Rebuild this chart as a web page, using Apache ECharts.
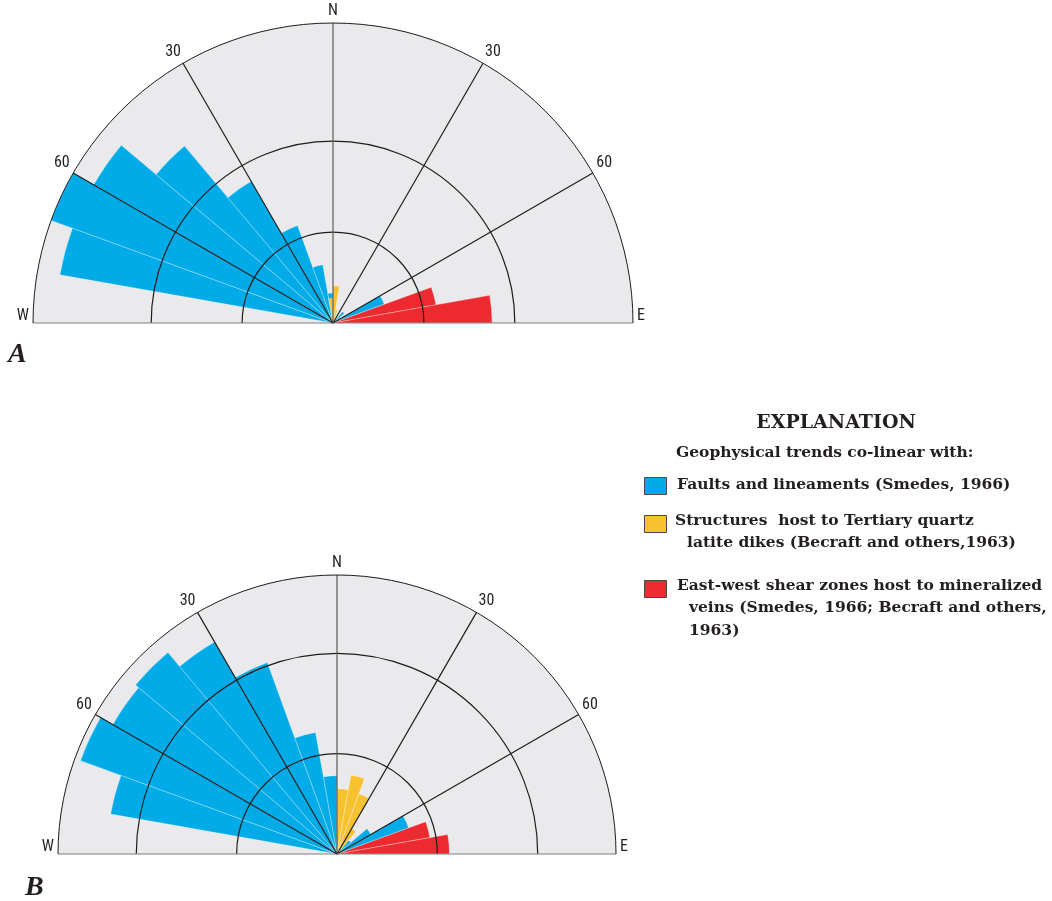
<!DOCTYPE html>
<html>
<head>
<meta charset="utf-8">
<script src="https://cdn.jsdelivr.net/npm/echarts@6/dist/echarts.min.js"></script>
<style>
  html, body { margin: 0; padding: 0; background: #ffffff; }
  #chart { width: 1052px; height: 901px; }
</style>
</head>
<body>
<div id="chart"></div>
<script>
// 10-degree strike bins, west to east through north
const bins = ['N85W', 'N75W', 'N65W', 'N55W', 'N45W', 'N35W', 'N25W', 'N15W', 'N5W',
              'N5E', 'N15E', 'N25E', 'N35E', 'N45E', 'N55E', 'N65E', 'N75E', 'N85E'];

// Diagram A (ring spacing = 10 units)
const faultsA = [0, 30.5, 33.0, 30.4, 25.4, 18.0, 11.4, 6.5, 3.3, 0, 0, 0, 0, 1.6, 0, 6.0, 0, 0];
const dikesA  = [0, 0, 0, 0, 0, 0, 0, 0, 2.7, 4.1, 1.5, 0, 0, 0, 0, 0, 0, 0];
const veinsA  = [0, 0, 0, 0, 0, 0, 0, 0, 0, 0, 0, 0, 0, 0, 0, 0, 11.5, 17.5];

// Diagram B (ring spacing = 10 units)
const faultsB = [0, 22.9, 27.2, 25.8, 26.2, 24.4, 20.3, 12.3, 7.8, 0, 0, 0, 0, 1.8, 3.9, 7.6, 0, 0];
const dikesB  = [0, 0, 0, 0, 0, 0, 0, 0, 0, 6.5, 8.0, 6.4, 2.9, 0, 0, 0, 0, 0];
const veinsB  = [0, 0, 0, 0, 0, 0, 0, 0, 0, 0, 0, 0, 0, 0, 0, 0, 9.4, 11.2];

// Compass tick labels (bearing in degrees, negative = west of north)
const compassTicks  = [-90, -60, -30, 0, 30, 60, 90];
const compassLabels = ['W', '60', '30', 'N', '30', '60', 'E'];

const seriesNames = [
  'Faults and lineaments (Smedes, 1966)',
  'Structures host to Tertiary quartz latite dikes (Becraft and others, 1963)',
  'East-west shear zones host to mineralized veins (Smedes, 1966; Becraft and others, 1963)'
];

const BLUE = '#00abe8';
const YELLOW = '#f8c130';
const RED = '#ec2a30';
const PANEL = '#eaeaec';
const INK = '#1d1d1d';
const LABEL_FONT = '"Liberation Sans Narrow", "Roboto Condensed", Roboto, sans-serif';

const polar = [], angleAxis = [], radiusAxis = [], series = [];
const hidden = { axisLine: { show: false }, axisTick: { show: false }, axisLabel: { show: false },
                 splitLine: { show: false }, splitArea: { show: false } };

// The angle axis closes its split areas back to the first tick; that closing
// sector is the lower half here, so it is left transparent.
const panelColors = compassTicks.map(function (t, i) {
  return i < compassTicks.length - 1 ? PANEL : 'rgba(0,0,0,0)';
});

function addRose(center, radius, maxR, data) {
  const pg = polar.length;   // panel fill, under everything
  const pb = pg + 1;         // bars
  const po = pg + 2;         // rings, spokes, rim and compass labels, above the bars
  polar.push({ center: center, radius: radius });
  polar.push({ center: center, radius: radius });
  polar.push({ center: center, radius: radius });

  // panel: half-disc fill drawn from the angle axis split areas
  angleAxis.push(Object.assign({ polarIndex: pg, type: 'value', min: -90, max: 90, interval: 30,
    startAngle: 180, endAngle: 0, z: 0 }, hidden,
    { splitArea: { show: true, areaStyle: { color: panelColors } } }));
  radiusAxis.push(Object.assign({ polarIndex: pg, type: 'value', min: 0, max: maxR, z: 0 }, hidden));

  // bars
  angleAxis.push(Object.assign({ polarIndex: pb, type: 'category', data: bins,
    startAngle: 180, endAngle: 0, boundaryGap: true, z: 1 }, hidden));
  radiusAxis.push(Object.assign({ polarIndex: pb, type: 'value', min: 0, max: maxR, z: 1 }, hidden));

  // overlay
  angleAxis.push({
    polarIndex: po, type: 'value', min: -90, max: 90, interval: 30,
    startAngle: 180, endAngle: 0, z: 5,
    axisLine: { show: true, lineStyle: { color: INK, width: 1 } },
    axisTick: { show: false },
    axisLabel: {
      show: true, margin: 4, color: '#231f20', fontFamily: LABEL_FONT, fontSize: 16,
      formatter: function (v) {
        const i = compassTicks.indexOf(Math.round(v));
        const t = i >= 0 ? compassLabels[i] : '';
        return (t === 'W' || t === 'E') ? '{we|' + t + '}' : t;
      },
      rich: { we: { fontFamily: LABEL_FONT, fontSize: 16, color: '#231f20', padding: [0, 0, 14, 0] } }
    },
    splitLine: { show: true, lineStyle: { color: ['#808080', INK, INK, '#5a5a5a', INK, INK, '#808080'], width: 1.2 } },
    splitArea: { show: false }
  });
  radiusAxis.push({
    polarIndex: po, type: 'value', min: 0, max: maxR, interval: 10, z: 5,
    axisLine: { show: false }, axisTick: { show: false }, axisLabel: { show: false },
    splitArea: { show: false },
    splitLine: { show: true, lineStyle: { color: ['transparent', INK, INK, 'transparent', 'transparent'], width: 1.2 } }
  });

  const colors = [BLUE, YELLOW, RED];
  data.forEach(function (values, k) {
    series.push({
      type: 'bar', coordinateSystem: 'polar', polarIndex: pb,
      name: seriesNames[k], data: values,
      barCategoryGap: '0%', barGap: '-100%', silent: true, z: 2 + k,
      itemStyle: { color: colors[k], borderColor: 'rgba(255,255,255,0.5)', borderWidth: 0.6 }
    });
  });
}

addRose([333, 323], 300, 33, [faultsA, dikesA, veinsA]);
addRose([337, 854], 279, 27.8, [faultsB, dikesB, veinsB]);

const SERIF = '"DejaVu Serif", "Liberation Serif", serif';
function txt(x, y, s, font, align) {
  return { type: 'text', x: x, y: y, silent: true,
    style: { text: s, font: font, fill: '#231f20', textAlign: align || 'left', textVerticalAlign: 'middle' } };
}
function box(y, color) {
  return { type: 'rect', silent: true, shape: { x: 644.5, y: y, width: 22, height: 17 },
    style: { fill: color, stroke: '#4a4a4a', lineWidth: 1 } };
}
const itemFont = 'bold 15.5px ' + SERIF;

const graphic = [
  txt(8, 355, 'A', 'italic bold 28px "Liberation Serif", serif'),
  txt(25, 888, 'B', 'italic bold 28px "Liberation Serif", serif'),
  txt(836, 423, 'EXPLANATION', 'bold 19px ' + SERIF, 'center'),
  txt(676, 453, 'Geophysical trends co-linear with:', itemFont),
  box(477.5, BLUE),
  txt(677, 485, 'Faults and lineaments (Smedes, 1966)', itemFont),
  box(515.5, YELLOW),
  txt(675, 521, 'Structures  host to Tertiary quartz', itemFont),
  txt(687, 543, 'latite dikes (Becraft and others,1963)', itemFont),
  box(580.5, RED),
  txt(677, 586, 'East-west shear zones host to mineralized', itemFont),
  txt(689, 608, 'veins (Smedes, 1966; Becraft and others,', itemFont),
  txt(689, 631, '1963)', itemFont)
];

const chart = echarts.init(document.getElementById('chart'), null, { renderer: 'canvas' });
chart.setOption({
  animation: false,
  backgroundColor: '#ffffff',
  polar: polar,
  angleAxis: angleAxis,
  radiusAxis: radiusAxis,
  series: series,
  graphic: graphic
});
</script>
</body>
</html>
